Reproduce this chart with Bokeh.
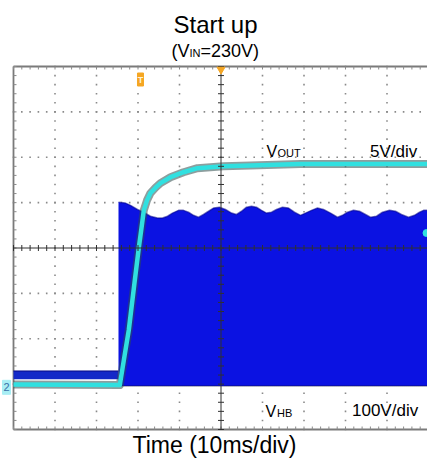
import numpy as np
from bokeh.plotting import figure
from bokeh.models import Range1d, Label
from bokeh.core.properties import value
from bokeh.embed import file_html
from bokeh.resources import INLINE

# ---------------- data (time in ms, vertical in screen divisions) ----------------
# V_OUT trace (channel 2, 5 V/div)
vout_t = [0.0, 25.61, 26.75, 27.78, 29.23, 30.19, 30.77, 31.40, 32.17, 33.01,
          34.22, 35.42, 37.83, 40.96, 44.34, 47.47, 50.60, 57.11, 69.16, 99.76]
vout_div = [-3.01, -3.02, -2.38, -1.81, -0.71, 0.0, 0.39, 0.83, 1.05, 1.21,
            1.33, 1.43, 1.56, 1.67, 1.76, 1.78, 1.80, 1.82, 1.85, 1.85]

# V_HB envelope (channel 1, 100 V/div): upper envelope after start-up
vhb_t = [25.30, 26.99, 28.19, 29.88, 31.33, 33.01, 34.70, 35.90, 37.11, 38.31,
         39.76, 40.96, 42.17, 43.37, 44.58, 45.78, 46.99, 48.19, 49.64, 51.08,
         52.53, 53.73, 54.94, 56.14, 57.35, 58.55, 59.76, 60.96, 62.17, 63.37,
         64.82, 66.27, 67.71, 69.16, 70.36, 71.81, 73.25, 74.70, 76.39, 78.07,
         79.28, 80.48, 81.93, 83.37, 84.82, 86.02, 87.47, 88.92, 90.60, 92.05,
         93.49, 95.18, 96.63, 97.83, 98.80, 100.0]
vhb_top = [1.01, 0.99, 0.94, 0.85, 0.79, 0.70, 0.66, 0.66, 0.70, 0.77,
           0.83, 0.83, 0.79, 0.72, 0.68, 0.74, 0.81, 0.88, 0.90, 0.85,
           0.77, 0.74, 0.81, 0.90, 0.92, 0.90, 0.83, 0.77, 0.79, 0.85,
           0.90, 0.88, 0.79, 0.72, 0.77, 0.83, 0.88, 0.85, 0.77, 0.68,
           0.72, 0.79, 0.83, 0.81, 0.74, 0.68, 0.70, 0.79, 0.83, 0.81,
           0.74, 0.68, 0.72, 0.79, 0.83, 0.83]
vhb_floor = -3.04
# V_HB before start-up (narrow band)
vhb_pre_t = [0.0, 25.30]
vhb_pre_lo = [-2.89, -2.89]
vhb_pre_hi = [-2.71, -2.71]

trigger_t = 30.6
ch2_ground = -3.07
ch2_level = 0.33

# ---------------- layout helpers (reference pixel -> data) ----------------
W, H = 427, 459
SX = 4.15       # px per ms   (graticule left edge at px 13)
SY = 45.375     # px per div  (graticule centre at px 247.5)
def X(px):
    return (px - 13) / SX
def Y(py):
    return (247.5 - py) / SY

FONT = "Liberation Sans"
BLUE = "#0b12e2"
CYAN = "#30e0e0"
ORANGE = "#f5a623"

p = figure(width=W, height=H, x_range=Range1d(X(0), X(W)), y_range=Range1d(Y(H), Y(0)),
           output_backend="svg", toolbar_location=None,
           x_axis_type=None, y_axis_type=None,
           min_border_left=0, min_border_right=0, min_border_top=0, min_border_bottom=0)
p.outline_line_color = None
p.background_fill_color = "white"
p.border_fill_color = "white"

# ---------------- graticule ----------------
minor_x = np.arange(0, 100.001, 2.0)
minor_y = np.arange(-4, 4.0001, 0.2)
major_x = [10, 20, 30, 40, 60, 70, 80, 90]
major_y = [-3, -2, -1, 1, 2, 3]
dx, dy = [], []
for mx in major_x:
    dx += [mx] * len(minor_y)
    dy += list(minor_y)
for my in major_y:
    dx += list(minor_x)
    dy += [my] * len(minor_x)
p.scatter(dx, dy, marker="square", size=1.6, color="#8a8a8a", line_color=None)

tx = 3 / SX
ty = 3 / SY
# frame border (left, top, bottom)
p.segment(x0=[0, 0, 0], y0=[-4, 4, -4], x1=[0, 110, 110], y1=[4, 4, -4],
          line_color="#7a7a7a", line_width=1.8)
p.segment(x0=[0] * len(minor_y), y0=list(minor_y), x1=[tx] * len(minor_y), y1=list(minor_y),
          line_color="#8a8a8a", line_width=1)
p.segment(x0=list(minor_x), y0=[4] * len(minor_x), x1=list(minor_x), y1=[4 - ty] * len(minor_x),
          line_color="#8a8a8a", line_width=1)
p.segment(x0=list(minor_x), y0=[-4] * len(minor_x), x1=list(minor_x), y1=[-4 + ty] * len(minor_x),
          line_color="#8a8a8a", line_width=1)

# ---------------- V_HB ----------------
p.varea(x=vhb_pre_t, y1=vhb_pre_lo, y2=vhb_pre_hi, fill_color="#1428c8")
p.line(vhb_pre_t, vhb_pre_hi, line_color="#0a0a8a", line_width=1.5, line_alpha=0.7)
p.varea(x=vhb_t, y1=[vhb_floor] * len(vhb_t), y2=vhb_top, fill_color=BLUE)
p.line(vhb_t, vhb_top, line_color="#00008a", line_width=1.5, line_alpha=0.55)
p.line([vhb_t[0], vhb_t[-1]], [vhb_floor, vhb_floor], line_color="#101040",
       line_width=1.5, line_dash="1 1", line_alpha=0.8)

# ---------------- V_OUT ----------------
p.line(vout_t, vout_div, line_color="#2f4f4f", line_width=8, line_alpha=0.55, line_join="round")
p.line(vout_t, vout_div, line_color=CYAN, line_width=4.5, line_join="round")

# ---------------- centre cross ----------------
p.segment(x0=[50, 0], y0=[-4, 0], x1=[50, 110], y1=[4, 0], line_color="#303030", line_width=1)
p.segment(x0=list(minor_x), y0=[-ty] * len(minor_x), x1=list(minor_x), y1=[ty] * len(minor_x),
          line_color="#303030", line_width=1)
p.segment(x0=[50 - tx] * len(minor_y), y0=list(minor_y), x1=[50 + tx] * len(minor_y), y1=list(minor_y),
          line_color="#303030", line_width=1)

# ---------------- scope markers ----------------
p.rect(x=[trigger_t], y=[Y(79)], width=6, height=13, width_units="screen", height_units="screen",
       fill_color=ORANGE, line_color=ORANGE)
p.text(x=[trigger_t], y=[Y(79)], text=["T"], text_font=value(FONT), text_font_size="9px",
       text_color="#fff2d8", text_align="center", text_baseline="middle", text_font_style="bold")
p.scatter(x=[50], y=[Y(69)], marker="inverted_triangle", size=8, color=ORANGE)

# channel 2 ground marker
p.rect(x=[X(6)], y=[ch2_ground], width=8, height=14, width_units="screen", height_units="screen",
       fill_color="#a8eef4", line_color="#a8eef4")
p.text(x=[X(6)], y=[ch2_ground], text=["2"], text_font=value(FONT), text_font_size="11px",
       text_color="#3a6ea8", text_align="center", text_baseline="middle")
# channel trigger level marker on right edge
p.scatter(x=[X(426)], y=[ch2_level], marker="circle", size=7, color=CYAN)

# ---------------- texts ----------------
def lab(px, py, txt, size, align="left"):
    # py is the wanted alphabetic baseline in reference pixels; the renderer
    # places text a little lower, so compensate by ~1/3 of the font size
    fs = float(size.replace("px", ""))
    p.add_layout(Label(x=X(px), y=Y(py - 0.33 * fs), text=txt, text_font=FONT, text_font_size=size,
                       text_color="black", text_align=align, text_baseline="alphabetic"))

lab(215, 32, "Start up", "24px", "center")
lab(171, 56.5, "(V", "18px")
lab(189, 56.5, "IN", "11px")
lab(200, 56.5, "=230V)", "18px")

lab(266, 156.3, "V", "16px")
lab(277, 156.3, "OUT", "11px")
lab(369.5, 156.3, "5V/div", "17px")

lab(265, 416, "V", "16px")
lab(276.5, 416, "HB", "11px")
lab(351.5, 416, "100V/div", "17px")

lab(214, 452, "Time (10ms/div)", "23px", "center")

open("out.html", "w").write(file_html(p, INLINE))
